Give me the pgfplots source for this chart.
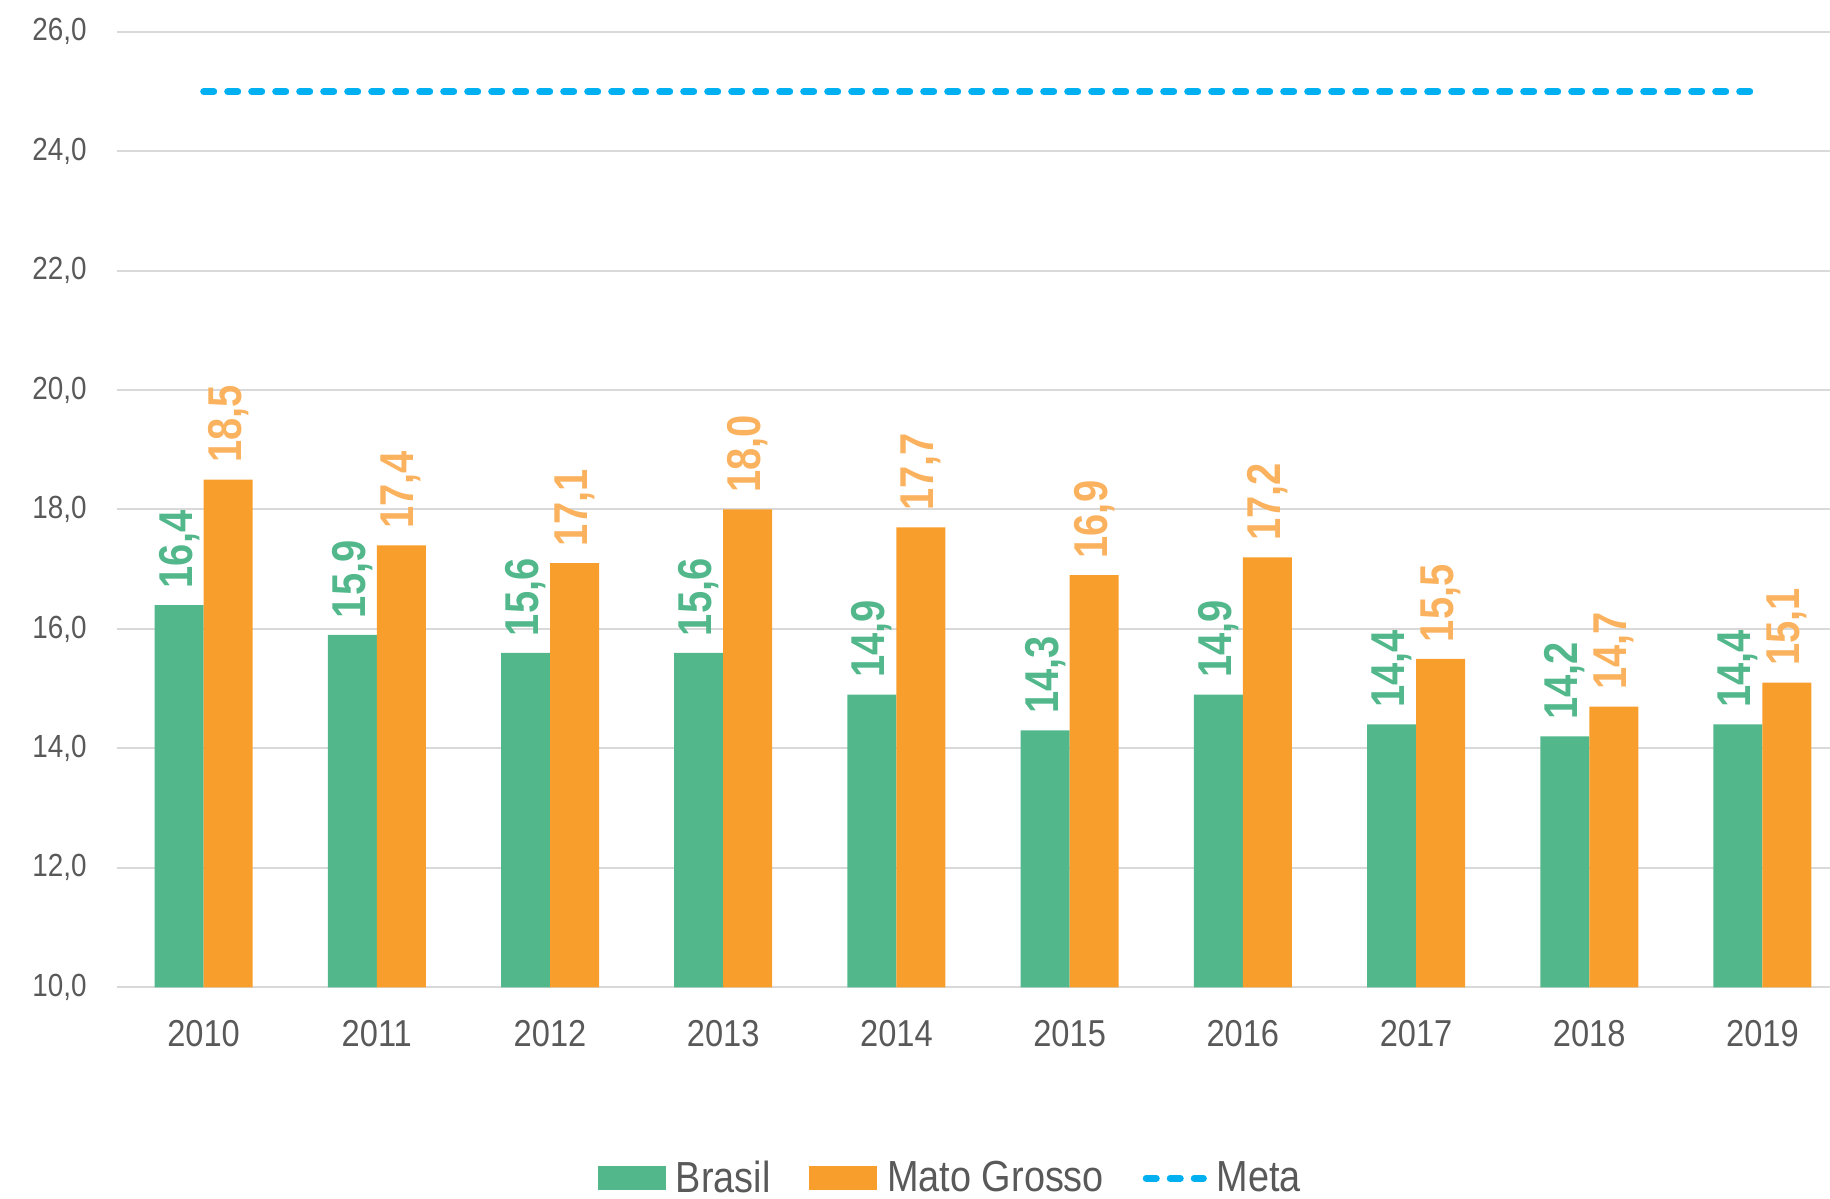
\documentclass[border=0pt]{standalone}
\usepackage{fontspec}
\setmainfont{Liberation Sans}[FakeStretch=0.87]
\newfontfamily\lblfont{Liberation Sans}[FakeStretch=0.84]
\usepackage{pgfplots}
\pgfplotsset{compat=1.18}
\definecolor{brgreen}{HTML}{52B88C}
\definecolor{mtorange}{HTML}{F79E2D}
\definecolor{mtlabel}{HTML}{FBB25E}
\definecolor{metablue}{HTML}{00B0F0}
\definecolor{txtgray}{HTML}{595959}
\definecolor{gridgray}{HTML}{D9D9D9}

\begin{document}
\begin{tikzpicture}
\begin{axis}[
  name=ax,
  scale only axis,
  width=685.2pt, height=382.2pt,
  xmin=-0.5, xmax=9.39,
  ymin=10, ymax=26,
  axis line style={draw=none},
  major tick length=0pt,
  xtick={0,...,9},
  xticklabels={2010,2011,2012,2013,2014,2015,2016,2017,2018,2019},
  ytick={10,12,...,26},
  ymajorgrids,
  grid style={gridgray, line width=0.8pt},
  /pgf/number format/fixed,
  /pgf/number format/fixed zerofill,
  /pgf/number format/precision=1,
  /pgf/number format/use comma,
  /pgf/number format/assume math mode=true,
  yticklabel style={anchor=east, inner sep=0pt, xshift=-12pt,
    font=\fontsize{12.8pt}{15pt}\selectfont, text=txtgray},
  xticklabel style={anchor=north, inner sep=0pt, yshift=-13pt,
    font=\fontsize{15pt}{18pt}\selectfont, text=txtgray},
  clip=false,
  legend columns=-1,
  legend style={at={(0.486,-0.200)}, anchor=center, draw=none, fill=none,
    font=\fontsize{17.4pt}{20pt}\selectfont, text=txtgray,
    nodes={inner sep=0pt},
    /tikz/every odd column/.append style={column sep=4pt},
    /tikz/every even column/.append style={column sep=15.5pt}},
]
\addplot[ybar, bar width=19.6pt, bar shift=-9.8pt, fill=brgreen, draw=none,
  nodes near coords,
  every node near coord/.style={xshift=-9.8pt, rotate=90, anchor=west, inner xsep=6.5pt, inner ysep=0pt,
    font=\lblfont\bfseries\fontsize{19pt}{21pt}\selectfont, text=brgreen},
  legend image code/.code={\fill[brgreen] (0pt,-4.8pt) rectangle (27.2pt,4.8pt);}]
  coordinates {(0,16.4) (1,15.9) (2,15.6) (3,15.6) (4,14.9) (5,14.3) (6,14.9) (7,14.4) (8,14.2) (9,14.4)};
\addlegendentry{Brasil}
\addplot[ybar, bar width=19.6pt, bar shift=9.8pt, fill=mtorange, draw=none,
  nodes near coords,
  every node near coord/.style={xshift=9.8pt, rotate=90, anchor=west, inner xsep=6.5pt, inner ysep=0pt,
    font=\lblfont\bfseries\fontsize{19pt}{21pt}\selectfont, text=mtlabel},
  legend image code/.code={\fill[mtorange] (0pt,-4.8pt) rectangle (27.2pt,4.8pt);}]
  coordinates {(0,18.5) (1,17.4) (2,17.1) (3,18.0) (4,17.7) (5,16.9) (6,17.2) (7,15.5) (8,14.7) (9,15.1)};
\addlegendentry{Mato Grosso}
\addplot[metablue, line width=2.7pt, dash pattern=on 4.1pt off 5.5pt, line cap=round,
  legend image code/.code={\draw[metablue, line width=2.7pt, dash pattern=on 4.1pt off 5.5pt, line cap=round] (1.35pt,0pt) -- (24.3pt,0pt);}]
  coordinates {(0,25) (9,25)};
\addlegendentry{Meta}
\end{axis}
\pgfresetboundingbox
\path[use as bounding box] ([shift={(-46.8pt,-84.7pt)}]ax.south west) rectangle ([shift={(685.2pt,394.9pt)}]ax.south west);
\end{tikzpicture}
\end{document}
